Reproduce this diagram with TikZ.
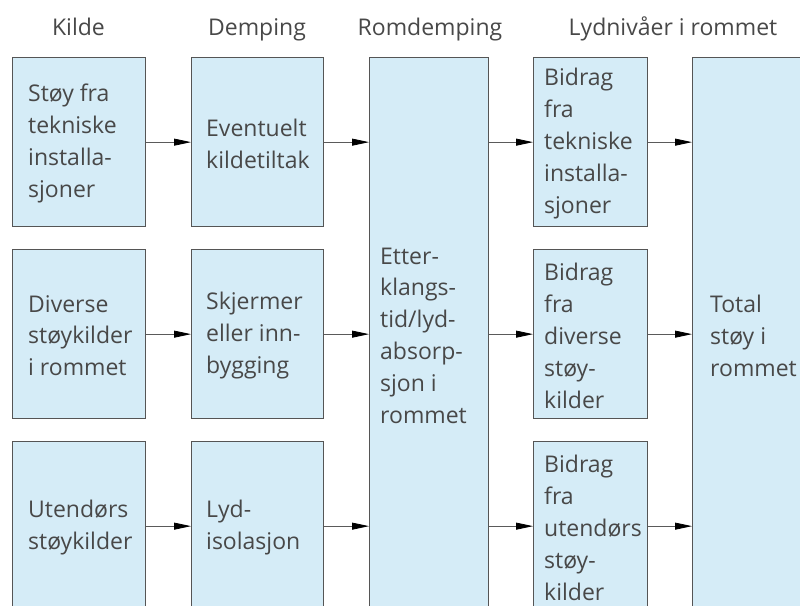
\documentclass[tikz,border=0pt]{standalone}
\usepackage{fontspec}
\setmainfont{Open Sans}
\usetikzlibrary{arrows.meta}
\definecolor{boxfill}{RGB}{213,236,247}
\definecolor{boxline}{RGB}{85,85,85}
\definecolor{txtc}{RGB}{72,72,72}
\definecolor{arrc}{RGB}{90,90,90}
\begin{document}
\begin{tikzpicture}[x=1pt,y=-1pt,
  blk/.style={draw=boxline, line width=1.3pt, fill=boxfill, rectangle, anchor=north west, inner sep=0pt},
  txt/.style={anchor=west, align=left, inner sep=0pt, text=txtc, font=\fontsize{23}{31.9}\selectfont},
  hdr/.style={anchor=base, inner sep=0pt, text=txtc, font=\fontsize{23}{28}\selectfont},
  arr/.style={draw=arrc, line width=0.8pt, -{Triangle[length=17pt,width=7pt,color=black]}}]
\useasboundingbox (0,0) rectangle (800,605);
\begin{scope}
\clip (0,0) rectangle (800,605);
% headers
\node[hdr] (h1) at (78.5,35) {Kilde};
\node[hdr] (h2) at (257,35) {Demping};
\node[hdr] (h3) at (430,35) {Romdemping};
\node[hdr] (h4) at (673,35) {Lydnivåer i rommet};
% column 1
\node[blk, minimum width=133pt, minimum height=169pt] (k1) at (12,57) {};
\node[blk, minimum width=133pt, minimum height=169pt] (k2) at (12,249) {};
\node[blk, minimum width=133pt, minimum height=169pt] (k3) at (12,441) {};
% column 2
\node[blk, minimum width=132pt, minimum height=169pt] (d1) at (191,57) {};
\node[blk, minimum width=132pt, minimum height=169pt] (d2) at (191,249) {};
\node[blk, minimum width=132pt, minimum height=169pt] (d3) at (191,441) {};
% column 3
\node[blk, minimum width=119pt, minimum height=553pt] (r) at (369,57) {};
% column 4
\node[blk, minimum width=114pt, minimum height=169pt] (b1) at (533,57) {};
\node[blk, minimum width=114pt, minimum height=169pt] (b2) at (533,249) {};
\node[blk, minimum width=114pt, minimum height=169pt] (b3) at (533,441) {};
% column 5
\node[blk, minimum width=125pt, minimum height=553pt] (t) at (692,57) {};
% texts
\node[txt] (k1t) at ([xshift=16pt,yshift=-1.5pt]k1.west) {Støy fra\\tekniske\\installa-\\sjoner};
\node[txt] (k2t) at ([xshift=16pt,yshift=-1.5pt]k2.west) {Diverse\\støykilder\\i rommet};
\node[txt] (k3t) at ([xshift=16pt,yshift=-1.5pt]k3.west) {Utendørs\\støykilder};
\node[txt] (d1t) at ([xshift=15pt,yshift=-1.5pt]d1.west) {Eventuelt\\kildetiltak};
\node[txt] (d2t) at ([xshift=15pt,yshift=-1.5pt]d2.west) {Skjermer\\eller inn-\\bygging};
\node[txt] (d3t) at ([xshift=15pt,yshift=-1.5pt]d3.west) {Lyd-\\isolasjon};
\node[txt] (rt) at ([xshift=11pt,yshift=-1.5pt]r.west) {Etter-\\klangs-\\tid/lyd-\\absorp-\\sjon i\\rommet};
\node[txt] (b1t) at ([xshift=11pt,yshift=-1.5pt]b1.west) {Bidrag\\fra\\tekniske\\installa-\\sjoner};
\node[txt] (b2t) at ([xshift=11pt,yshift=-1.5pt]b2.west) {Bidrag\\fra\\diverse\\støy-\\kilder};
\node[txt] (b3t) at ([xshift=11pt,yshift=-1.5pt]b3.west) {Bidrag\\fra\\utendørs\\støy-\\kilder};
\node[txt] (tt) at ([xshift=18pt,yshift=-1.5pt]t.west) {Total\\støy i\\rommet};
% arrows
\draw[arr] (k1.east) -- (d1.west);
\draw[arr] (k2.east) -- (d2.west);
\draw[arr] (k3.east) -- (d3.west);
\draw[arr] (d1.east) -- (d1.east -| r.west);
\draw[arr] (d2.east) -- (d2.east -| r.west);
\draw[arr] (d3.east) -- (d3.east -| r.west);
\draw[arr] (b1.west -| r.east) -- (b1.west);
\draw[arr] (b2.west -| r.east) -- (b2.west);
\draw[arr] (b3.west -| r.east) -- (b3.west);
\draw[arr] (b1.east) -- (b1.east -| t.west);
\draw[arr] (b2.east) -- (b2.east -| t.west);
\draw[arr] (b3.east) -- (b3.east -| t.west);
\end{scope}
\end{tikzpicture}
\end{document}
